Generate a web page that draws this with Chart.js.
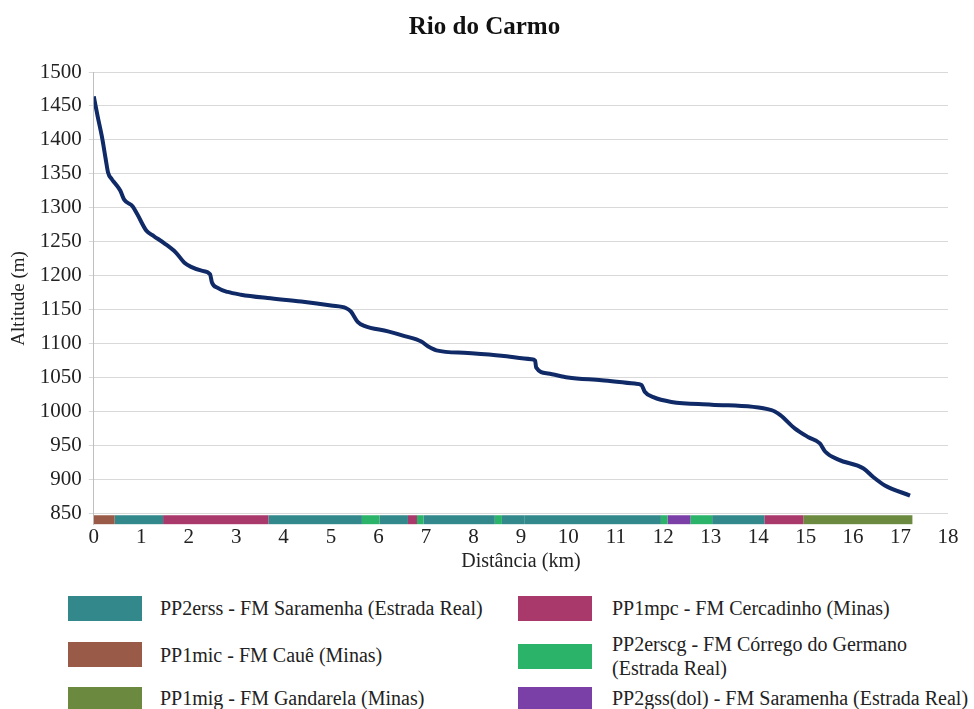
<!DOCTYPE html>
<html>
<head>
<meta charset="utf-8">
<script src="https://cdn.jsdelivr.net/npm/chart.js@4.4.1/dist/chart.umd.min.js"></script>
<style>
  body { margin: 0; background: #fff; font-family: "Liberation Serif", "Times New Roman", serif; }
  #wrap { position: relative; width: 974px; height: 709px; overflow: hidden; }
  #chartBox { position: absolute; left: 0; top: 0; width: 974px; height: 580px; }
  #title { position: absolute; left: 0; top: 11px; width: 969px; text-align: center; font-size: 25px; font-weight: bold; color: #111; line-height: 30px; }
  .item { position: absolute; font-size: 20px; color: #222; line-height: 24px; }
  .sw { position: absolute; width: 74px; height: 25px; }
</style>
</head>
<body>
<div id="wrap">
  <div id="chartBox"><canvas id="profile"></canvas></div>
  <div id="title">Rio do Carmo</div>
  <div id="legend"></div>
</div>
<script>
// river profile (distance in km, altitude in m)
const distKm = [0, 0.08, 0.17, 0.25, 0.30, 0.38, 0.46, 0.56, 0.64, 0.82, 0.92, 1.11, 1.27, 1.48, 1.73, 1.91, 2.05, 2.29, 2.45, 2.49,
  2.61, 2.82, 3.10, 3.66, 4.37, 5.0, 5.32, 5.42, 5.56, 5.70, 6.20, 6.55, 6.90, 7.04, 7.22, 7.88, 8.59, 9.22, 9.30, 9.32,
  9.57, 9.99, 10.70, 11.40, 11.54, 11.61, 11.79, 12.17, 13.02, 14.28, 14.46, 14.77, 15.06, 15.30, 15.41, 15.69, 16.22, 16.43, 16.67, 17.20];
const altitude = [1464, 1435, 1405, 1372, 1352, 1342, 1335, 1325, 1312, 1302, 1290, 1266, 1258, 1248, 1234, 1219, 1213, 1207, 1202, 1190,
  1182, 1176, 1172, 1167, 1162, 1156, 1152, 1147, 1132, 1126, 1118, 1111, 1103, 1096, 1090, 1086, 1082, 1077, 1075, 1065,
  1056, 1050, 1046, 1041, 1039, 1029, 1021, 1014, 1010, 1002, 995, 975, 962, 953, 941, 929, 916, 903, 891, 876];

// geological units along the river (bar under the axis)
const segStart = [0, 0.44, 1.46, 3.68, 5.65, 6.02, 6.62, 6.81, 6.95, 8.45, 8.60, 9.07, 11.95, 12.09, 12.57, 13.03, 14.13, 14.95];
const segEnd   = [0.44, 1.46, 3.68, 5.65, 6.02, 6.62, 6.81, 6.95, 8.45, 8.60, 9.07, 11.95, 12.09, 12.57, 13.03, 14.13, 14.95, 17.25];
const segUnit  = ["mic", "erss", "mpc", "erss", "erscg", "erss", "mpc", "erscg", "erss", "erscg", "erss", "erss", "erscg", "gss", "erscg", "erss", "mpc", "mig"];

const unitCodes  = ["erss", "mpc", "mic", "erscg", "mig", "gss"];
const unitLabels = [
  "PP2erss - FM Saramenha (Estrada Real)",
  "PP1mpc - FM Cercadinho (Minas)",
  "PP1mic - FM Cauê (Minas)",
  "PP2erscg - FM Córrego do Germano<br>(Estrada Real)",
  "PP1mig - FM Gandarela (Minas)",
  "PP2gss(dol) - FM Saramenha (Estrada Real)"
];
const unitColors = ["#32888b", "#a9386b", "#9a5a48", "#2bb36a", "#6b8a3f", "#7b3fa8"];

const yTicks = [850, 900, 950, 1000, 1050, 1100, 1150, 1200, 1250, 1300, 1350, 1400, 1450, 1500];
const barLevel = 840.5; // altitude where the unit bar sits (just under 850)

const serif = "'Liberation Serif', 'Times New Roman', serif";

// legend (html, two columns)
const legendPos = [
  { sx: 68, sy: 596, tx: 160, ty: 596 },
  { sx: 518, sy: 596, tx: 612, ty: 596 },
  { sx: 68, sy: 642, tx: 160, ty: 643 },
  { sx: 518, sy: 644, tx: 612, ty: 632 },
  { sx: 68, sy: 687, tx: 160, ty: 686 },
  { sx: 518, sy: 687, tx: 612, ty: 686 }
];
const legendEl = document.getElementById("legend");
unitCodes.forEach((code, i) => {
  const p = legendPos[i];
  const sw = document.createElement("div");
  sw.className = "sw";
  sw.style.left = p.sx + "px";
  sw.style.top = p.sy + "px";
  sw.style.background = unitColors[i];
  legendEl.appendChild(sw);
  const tx = document.createElement("div");
  tx.className = "item";
  tx.style.left = p.tx + "px";
  tx.style.top = p.ty + "px";
  tx.innerHTML = unitLabels[i];
  legendEl.appendChild(tx);
});

const segDatasets = segStart.map((s, i) => ({
  label: segUnit[i],
  data: [{ x: s, y: barLevel }, { x: segEnd[i], y: barLevel }],
  borderColor: unitColors[unitCodes.indexOf(segUnit[i])],
  borderWidth: 9,
  borderCapStyle: "butt",
  pointRadius: 0,
  tension: 0
}));

const ctx = document.getElementById("profile").getContext("2d");
new Chart(ctx, {
  type: "line",
  data: {
    datasets: [
      {
        label: "Rio do Carmo",
        data: distKm.map((d, i) => ({ x: d, y: altitude[i] })),
        borderColor: "#0f2a66",
        borderWidth: 4,
        pointRadius: 0,
        cubicInterpolationMode: "monotone"
      },
      ...segDatasets
    ]
  },
  options: {
    responsive: true,
    maintainAspectRatio: false,
    animation: false,
    layout: { padding: { left: 0, right: 26, top: 72, bottom: 6 } },
    plugins: {
      legend: { display: false },
      tooltip: { enabled: false },
      title: { display: false }
    },
    scales: {
      x: {
        type: "linear",
        min: 0,
        max: 18,
        border: { display: false },
        grid: { drawOnChartArea: false, drawTicks: false },
        ticks: {
          stepSize: 1,
          autoSkip: false,
          maxRotation: 0,
          padding: 0,
          color: "#222",
          font: { family: serif, size: 21 }
        },
        title: {
          display: true,
          text: "Distância (km)",
          color: "#222",
          font: { family: serif, size: 20 },
          padding: { top: 0, bottom: 0 }
        }
      },
      y: {
        min: 833,
        max: 1500,
        border: { display: true, color: "#bfbfbf" },
        grid: { color: "#d9d9d9", tickLength: 5 },
        afterBuildTicks: (scale) => {
          scale.ticks = yTicks.map((v) => ({ value: v }));
        },
        ticks: {
          color: "#222",
          padding: 7,
          font: { family: serif, size: 21 },
          callback: (v) => String(v)
        },
        title: {
          display: true,
          text: "Altitude (m)",
          color: "#222",
          font: { family: serif, size: 19 },
          padding: { top: 8, bottom: 2 }
        }
      }
    }
  }
});
</script>
</body>
</html>
